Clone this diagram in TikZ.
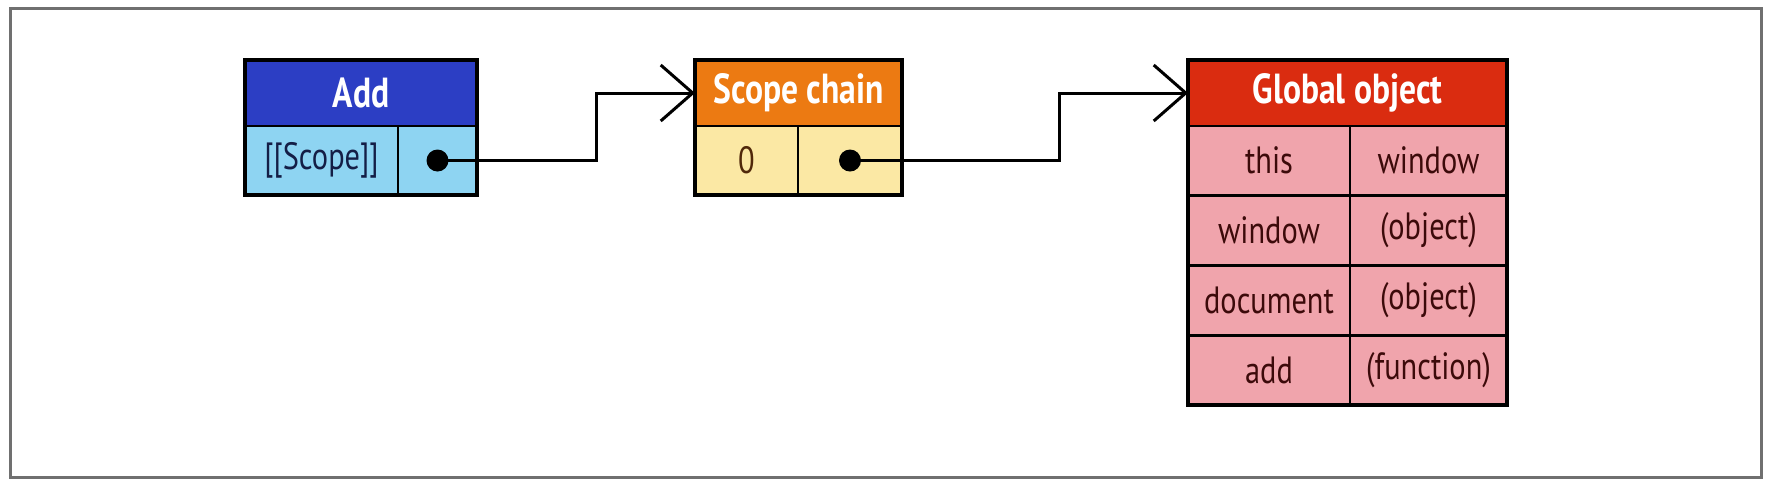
\documentclass[tikz,border=0pt]{standalone}
\usepackage{fontspec}
\setmainfont{PT Sans}[FakeStretch=0.8]
\usetikzlibrary{positioning}
\usetikzlibrary{calc}
\usetikzlibrary{arrows.meta}
\definecolor{addblue}{RGB}{44,62,196}
\definecolor{addsky}{RGB}{142,212,242}
\definecolor{addink}{RGB}{20,30,70}
\definecolor{chainorange}{RGB}{236,122,18}
\definecolor{chainyellow}{RGB}{251,232,164}
\definecolor{chainink}{RGB}{80,40,10}
\definecolor{globalred}{RGB}{218,44,16}
\definecolor{globalpink}{RGB}{240,164,172}
\definecolor{globalink}{RGB}{60,10,10}
\definecolor{framegray}{RGB}{112,112,112}
\tikzset{
  cell/.style = {draw, line width=1pt, inner sep=0, outer sep=0, anchor=north west,
    minimum height=34.5pt, font=\fontsize{19}{21}\selectfont},
  head/.style = {cell, minimum height=33pt, font=\fontsize{21}{23}\selectfont\bfseries, text=white},
  outline/.style = {line width=2pt},
  link/.style = {line width=1.5pt, -{Straight Barb[length=16pt, width=28pt, line width=1.5pt]}},
}

\begin{document}
\begin{tikzpicture}[x=0.5pt, y=-0.5pt]
\useasboundingbox (0,0) rectangle (1768,484);
\draw [framegray, line width=1.5pt] (10,8) rectangle (1761,477);

% Add
\node [head, fill=addblue, minimum width=116pt] (addhead) at (245,60) {Add};
\node [cell, fill=addsky, text=addink, minimum width=76.5pt] (addkey) at (addhead.south west) {[[Scope]]};
\node [cell, fill=addsky, minimum width=39.5pt] (addval) at (addkey.north east) {};
\draw [outline] (addhead.north west) rectangle (addval.south east);

% scope chain
\node [head, fill=chainorange, minimum width=103.5pt] (chainhead) at (695,60) {Scope chain};
\node [cell, fill=chainyellow, text=chainink, minimum width=51.5pt] (chainkey) at (chainhead.south west) {0};
\node [cell, fill=chainyellow, minimum width=52pt] (chainval) at (chainkey.north east) {};
\draw [outline] (chainhead.north west) rectangle (chainval.south east);

% global object
\node [head, fill=globalred, minimum width=159.5pt] (globalhead) at (1188,60) {Global object};
\foreach \k/\v [count=\i] in {this/window, window/(object), document/(object), add/(function)} {
  \node [cell, fill=globalpink, text=globalink, minimum width=81pt] (gkey\i) at (1188,{126+(\i-1)*70}) {\k};
  \node [cell, fill=globalpink, text=globalink, minimum width=78.5pt] (gval\i) at (gkey\i.north east) {\v};
}
\draw [outline] (globalhead.north west) rectangle (gval4.south east);

% links
\fill (addval.center) circle (5.5pt);
\draw [link] (addval.center) -| ($(addval.east)!0.55!(chainhead.west)$) |- (chainhead.west);
\fill (chainval.center) circle (5.5pt);
\draw [link] (chainval.center) -| ($(chainval.east)!0.55!(globalhead.west)$) |- (globalhead.west);
\end{tikzpicture}
\end{document}
